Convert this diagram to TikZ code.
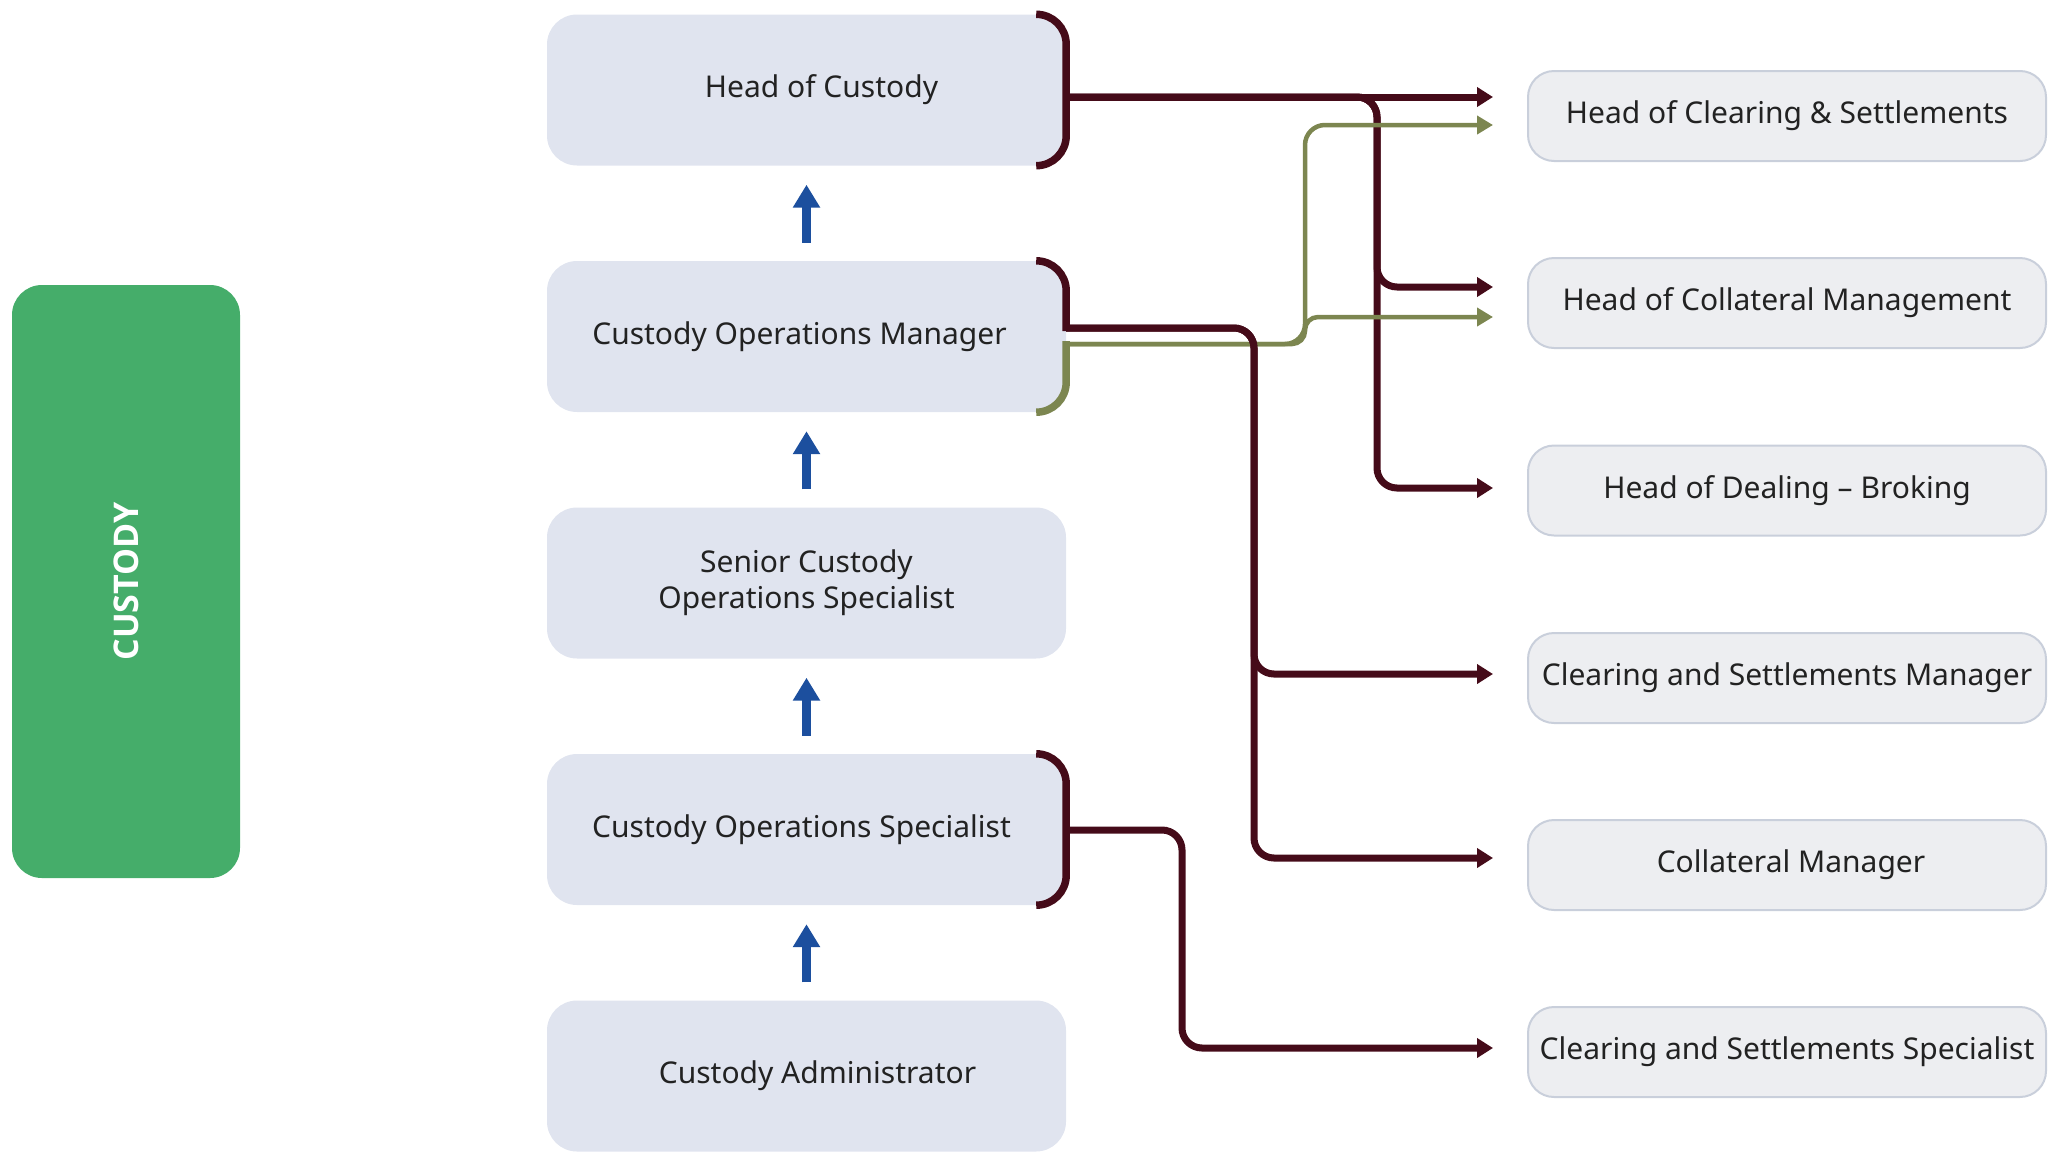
\documentclass[tikz,border=0pt]{standalone}
\usepackage{fontspec}
\setmainfont{Noto Sans}
\newfontfamily\tabfont{Open Sans}
\usetikzlibrary{arrows.meta}

\definecolor{rolefill}{HTML}{E0E4EF}
\definecolor{peerfill}{HTML}{EDEEF1}
\definecolor{peerline}{HTML}{C9CFDB}
\definecolor{maroonline}{HTML}{450B19}
\definecolor{oliveline}{HTML}{7C8650}
\definecolor{teamgreen}{HTML}{45AD6A}
\definecolor{upblue}{HTML}{1C4F9E}
\definecolor{ink}{HTML}{222222}

\begin{document}
\begin{tikzpicture}[x=1pt,y=-1pt,
  labelfont/.style={font=\fontsize{30}{36}\selectfont},
  rolebox/.style={fill=rolefill, rounded corners=30pt, minimum width=519pt,
    minimum height=151pt, inner sep=0pt, text=ink, align=center, labelfont},
  peerbox/.style={fill=peerfill, draw=peerline, line width=2pt, rounded corners=26pt,
    minimum width=518pt, minimum height=90pt, inner xsep=4pt, inner ysep=0pt,
    text=ink, align=center, labelfont},
  bracket/.style={line width=7.5pt, rounded corners=30pt},
  link/.style={draw=maroonline, line width=7pt, rounded corners=20pt,
    -{Triangle[length=16pt,width=19pt]}},
  olink/.style={draw=oliveline, line width=4.5pt, rounded corners=20pt,
    -{Triangle[length=16pt,width=18pt]}},
  uparrow/.style={draw=upblue, line width=9pt, -{Triangle[length=23pt,width=26pt]}},
]
\useasboundingbox (0,0) rectangle (2067,1160);

% department tab
\node[fill=teamgreen, rounded corners=30pt, minimum width=593pt, minimum height=228pt,
  rotate=90, text=white, font=\tabfont\bfseries\fontsize{34}{40}\selectfont] (team) at (126,581.5) {CUSTODY};

% career ladder
\node[rolebox] (hoc)  at (806.5,90)    {\hspace*{30pt}Head of Custody};
\node[rolebox] (com)  at (806.5,336.5) {Custody Operations Manager\hspace*{14pt}};
\node[rolebox] (scos) at (806.5,583)   {Senior Custody\\Operations Specialist};
\node[rolebox] (cos)  at (806.5,829.5) {Custody Operations Specialist\hspace*{10pt}};
\node[rolebox] (ca)   at (806.5,1076)  {\hspace*{22pt}Custody Administrator};

% related roles
\node[peerbox] (hocs) at (1787,116)   {Head of Clearing \& Settlements};
\node[peerbox] (hocm) at (1787,303)   {Head of Collateral Management};
\node[peerbox] (hodb) at (1787,490.5) {Head of Dealing – Broking};
\node[peerbox] (csm)  at (1787,678)   {Clearing and Settlements Manager};
\node[peerbox] (cm)   at (1787,865)   {\hspace*{8pt}Collateral Manager};
\node[peerbox] (css)  at (1787,1052)  {Clearing and Settlements Specialist};

% promotion arrows
\draw[uparrow] ([yshift=18pt]com.north)  -- ([yshift=-19pt]hoc.south);
\draw[uparrow] ([yshift=18pt]scos.north) -- ([yshift=-19pt]com.south);
\draw[uparrow] ([yshift=18pt]cos.north)  -- ([yshift=-19pt]scos.south);
\draw[uparrow] ([yshift=18pt]ca.north)   -- ([yshift=-19pt]cos.south);

% brackets on the right sides of the ladder boxes
\draw[bracket, maroonline] ([xshift=-30pt]hoc.north east) -- (hoc.north east)
  -- (hoc.south east) -- ([xshift=-30pt]hoc.south east);
\draw[bracket, maroonline] ([xshift=-30pt]com.north east) -- (com.north east)
  -- ([yshift=5.5pt]com.east);
\draw[bracket, oliveline] ([yshift=-4.5pt]com.east) -- (com.south east)
  -- ([xshift=-30pt]com.south east);
\draw[bracket, maroonline] ([xshift=-30pt]cos.north east) -- (cos.north east)
  -- (cos.south east) -- ([xshift=-30pt]cos.south east);

% connector end points
\coordinate (hoc-out) at ([yshift=-7pt]hoc.east);
\coordinate (com-out) at ([yshift=8.5pt]com.east);
\coordinate (com-alt) at ([yshift=-7.5pt]com.east);
\coordinate (cos-out) at ([yshift=-0.5pt]cos.east);

\coordinate (hocs-in)  at ([xshift=-34pt,yshift=19pt]hocs.west);
\coordinate (hocs-alt) at ([xshift=-34pt,yshift=-9pt]hocs.west);
\coordinate (hocm-in)  at ([xshift=-34pt,yshift=16pt]hocm.west);
\coordinate (hocm-alt) at ([xshift=-34pt,yshift=-14pt]hocm.west);
\coordinate (hodb-in)  at ([xshift=-34pt,yshift=2.5pt]hodb.west);
\coordinate (csm-in)   at ([xshift=-34pt,yshift=4pt]csm.west);
\coordinate (cm-in)    at ([xshift=-34pt,yshift=7pt]cm.west);
\coordinate (css-in)   at ([xshift=-34pt,yshift=4pt]css.west);

% vertical trunks
\coordinate (trunk-hoc) at (1377,0);
\coordinate (trunk-com) at (1254,0);
\coordinate (trunk-alt) at (1305,0);
\coordinate (trunk-cos) at (1182,0);

% Head of Custody links
\draw[link] (hoc-out) -- (hocs-in);
\draw[link] (hoc-out) -- (hoc-out -| trunk-hoc) -- (trunk-hoc |- hocm-in) -- (hocm-in);
\draw[link] (hoc-out) -- (hoc-out -| trunk-hoc) -- (trunk-hoc |- hodb-in) -- (hodb-in);

% Custody Operations Manager secondary links
\draw[olink] (com-alt) -- (com-alt -| trunk-alt) -- (trunk-alt |- hocs-alt) -- (hocs-alt);
\draw[olink, rounded corners=13pt] (com-alt) -- (com-alt -| trunk-alt)
  -- (trunk-alt |- hocm-alt) -- (hocm-alt);

% Custody Operations Manager links
\draw[link] (com-out) -- (com-out -| trunk-com) -- (trunk-com |- csm-in) -- (csm-in);
\draw[link] (com-out) -- (com-out -| trunk-com) -- (trunk-com |- cm-in) -- (cm-in);

% Custody Operations Specialist link
\draw[link] (cos-out) -- (cos-out -| trunk-cos) -- (trunk-cos |- css-in) -- (css-in);
\end{tikzpicture}
\end{document}
